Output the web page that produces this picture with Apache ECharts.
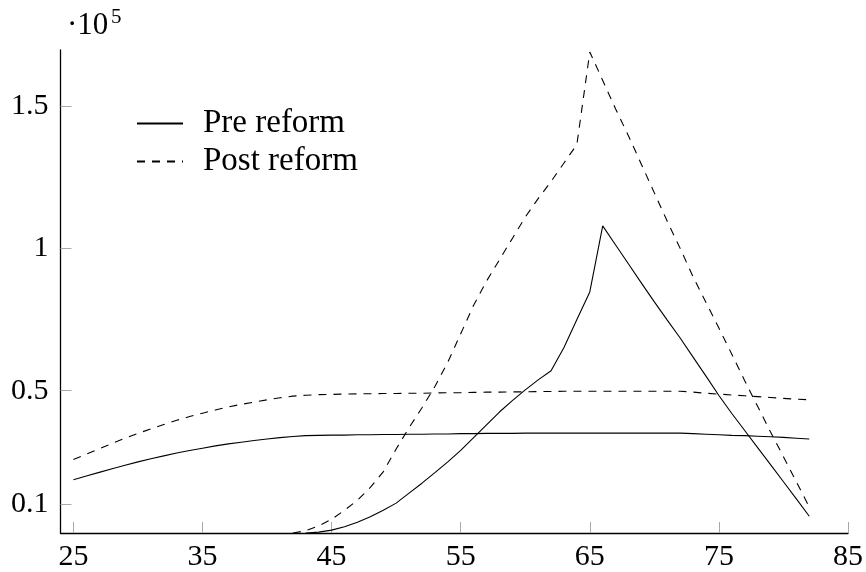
<!DOCTYPE html>
<html>
<head>
<meta charset="utf-8">
<script src="https://cdn.jsdelivr.net/npm/echarts@6/dist/echarts.min.js"></script>
<style>html,body{margin:0;padding:0;background:#fff}#c{width:866px;height:572px}</style>
</head>
<body>
<div id="c"></div>
<script>
// ages 25..82
const ages = [];
for (let a = 25; a <= 82; a++) ages.push(a);

// values in units of 10^5
const preBase = [0.187,0.200,0.213,0.226,0.238,0.250,0.261,0.271,0.281,0.290,0.298,0.306,0.313,0.319,0.325,0.330,0.335,0.339,0.342,0.343,0.344,0.344,0.345,0.345,0.346,0.346,0.347,0.347,0.348,0.348,0.349,0.349,0.350,0.350,0.350,0.351,0.351,0.351,0.351,0.351,0.351,0.351,0.351,0.351,0.351,0.351,0.351,0.351,0.349,0.347,0.345,0.343,0.342,0.340,0.338,0.336,0.333,0.330];
const postBase = [0.258,0.277,0.296,0.315,0.333,0.350,0.366,0.381,0.396,0.409,0.421,0.432,0.443,0.452,0.460,0.468,0.475,0.481,0.484,0.486,0.487,0.488,0.489,0.489,0.490,0.490,0.491,0.491,0.492,0.493,0.493,0.494,0.495,0.495,0.496,0.496,0.497,0.497,0.498,0.498,0.498,0.498,0.498,0.498,0.498,0.498,0.498,0.498,0.495,0.491,0.488,0.485,0.482,0.479,0.476,0.473,0.470,0.468];
const prePeak = [null,null,null,null,null,null,null,null,null,null,null,null,null,null,null,null,null,null,0.000,0.003,0.010,0.022,0.038,0.057,0.080,0.105,0.140,0.175,0.212,0.250,0.290,0.335,0.380,0.425,0.465,0.503,0.538,0.570,0.652,0.750,0.847,1.079,1.012,0.945,0.878,0.812,0.748,0.685,0.618,0.551,0.483,0.420,0.360,0.300,0.240,0.180,0.120,0.059];
const postPeak = [null,null,null,null,null,null,null,null,null,null,null,null,null,null,null,null,null,0.000,0.008,0.025,0.048,0.080,0.115,0.160,0.215,0.295,0.370,0.440,0.515,0.600,0.700,0.800,0.885,0.960,1.035,1.110,1.175,1.235,1.300,1.365,1.690,1.590,1.490,1.395,1.295,1.195,1.095,1.000,0.900,0.810,0.720,0.628,0.535,0.445,0.355,0.268,0.180,0.091];

const xTicks = [25,35,45,55,65,75,85];
const yTicks = [0.1,0.5,1,1.5];
const legendNames = ['Pre reform','Post reform'];

function pairs(vals){ return ages.map((a,i)=>[a, vals[i]]).filter(p=>p[1]!==null); }

const FONT = 'Liberation Serif';
const solid = {color:'#000', width:1.1, type:'solid'};
const dashed = {color:'#000', width:1.1, type:[8,7]};

const chart = echarts.init(document.getElementById('c'), null, {renderer:'canvas'});
chart.setOption({
  animation:false,
  backgroundColor:'#fff',
  grid:{left:60.5, right:18, top:50, bottom:38, containLabel:false},
  xAxis:{
    type:'value', min:24, max:85,
    axisLine:{show:true, lineStyle:{color:'#000', width:1.3}},
    axisTick:{show:true, inside:true, length:11, customValues:xTicks, lineStyle:{color:'#aaa', width:1}},
    axisLabel:{customValues:xTicks, color:'#000', fontFamily:FONT, fontSize:30, margin:9},
    splitLine:{show:false}
  },
  yAxis:{
    type:'value', min:0, max:1.697,
    axisLine:{show:true, lineStyle:{color:'#000', width:1.3}},
    axisTick:{show:true, inside:true, length:11, customValues:yTicks, lineStyle:{color:'#aaa', width:1}},
    axisLabel:{customValues:yTicks, color:'#000', fontFamily:FONT, fontSize:30, margin:12},
    splitLine:{show:false}
  },
  legend:{
    data:legendNames, orient:'vertical', left:131, top:102,
    itemWidth:46, itemHeight:14, itemGap:5,
    itemStyle:{opacity:0},
    lineStyle:{inactiveColor:'#ccc'},
    textStyle:{fontFamily:FONT, fontSize:33, lineHeight:30, color:'#000', padding:[0,0,0,15]}
  },
  graphic:[
    {type:'text', left:67, top:10, style:{text:'·10', fontFamily:FONT, fontSize:31, fill:'#000'}},
    {type:'text', left:111, top:7, style:{text:'5', fontFamily:FONT, fontSize:21, fill:'#000'}}
  ],
  series:[
    {name:legendNames[0], type:'line', data:pairs(preBase), showSymbol:false, symbol:'none', lineStyle:solid, itemStyle:{color:'#000'}, z:3},
    {name:legendNames[1], type:'line', data:pairs(postBase), showSymbol:false, symbol:'none', lineStyle:dashed, itemStyle:{color:'#000'}, z:3},
    {name:legendNames[0], type:'line', data:pairs(prePeak), showSymbol:false, symbol:'none', lineStyle:solid, itemStyle:{color:'#000'}, z:3},
    {name:legendNames[1], type:'line', data:pairs(postPeak), showSymbol:false, symbol:'none', lineStyle:dashed, itemStyle:{color:'#000'}, z:3}
  ]
});
</script>
</body>
</html>
